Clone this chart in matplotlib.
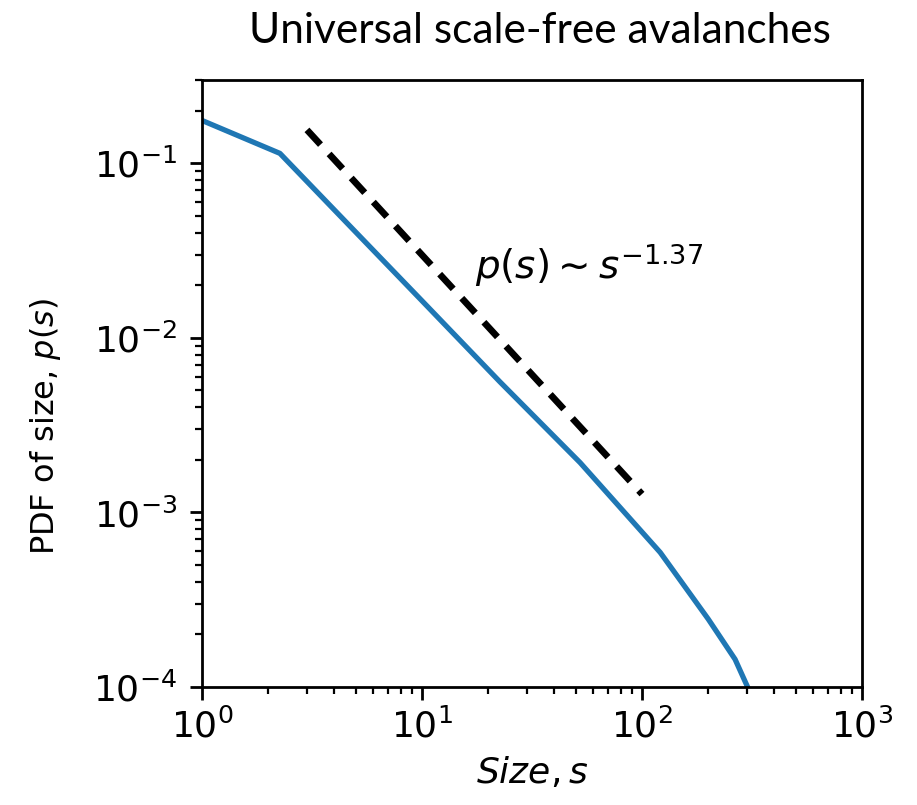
import numpy as np
import matplotlib
matplotlib.use("Agg")
import matplotlib.pyplot as plt

# avalanche size distribution (log-binned)
sizes = [1.0, 2.26, 4.76, 10.0, 22.6, 52.3, 121.0, 200.0, 265.0, 302.0]
pdf = [0.176, 0.114, 0.043, 0.0163, 0.0056, 0.00193, 0.00059, 0.000245, 0.000144, 0.0001]

# power-law guide
fit_exponent = -1.37
fit_coeff = 0.70
fit_range = [3.0, 100.0]

fig = plt.figure(figsize=(9.17, 8.05), dpi=100)
ax = fig.add_axes([0.2203, 0.1466, 0.7197, 0.754])

ax.plot(sizes, pdf, color="#1f77b4", lw=3.8)

s_fit = np.array(fit_range)
ax.plot(s_fit, fit_coeff * s_fit ** fit_exponent, color="black", lw=4.8,
        linestyle=(0, (3.0, 1.9)))

ax.text(17.4, 0.026, r"$p(s) \sim s^{-1.37}$", fontsize=28, va="center")

ax.set_xscale("log")
ax.set_yscale("log")
ax.set_xlim(1, 1000)
ax.set_ylim(1e-4, 0.3)

for sp in ax.spines.values():
    sp.set_linewidth(2)
ax.tick_params(which="major", length=9, width=2, labelsize=26, direction="out")
ax.tick_params(axis="x", which="major", pad=6)
ax.tick_params(axis="y", which="major", pad=9)
ax.tick_params(which="minor", length=5, width=1.6, direction="out")

ax.set_xlabel(r"$Size, s$", fontsize=26, labelpad=8)
ax.set_ylabel(r"PDF of size, $p(s)$", fontsize=23)
ax.yaxis.set_label_coords(-0.21, 0.43)

fig.text(0.589, 0.961, "Universal scale-free avalanches", fontsize=30.5,
         family="Lato", ha="center", va="center")

fig.savefig("out.png", dpi=100)
